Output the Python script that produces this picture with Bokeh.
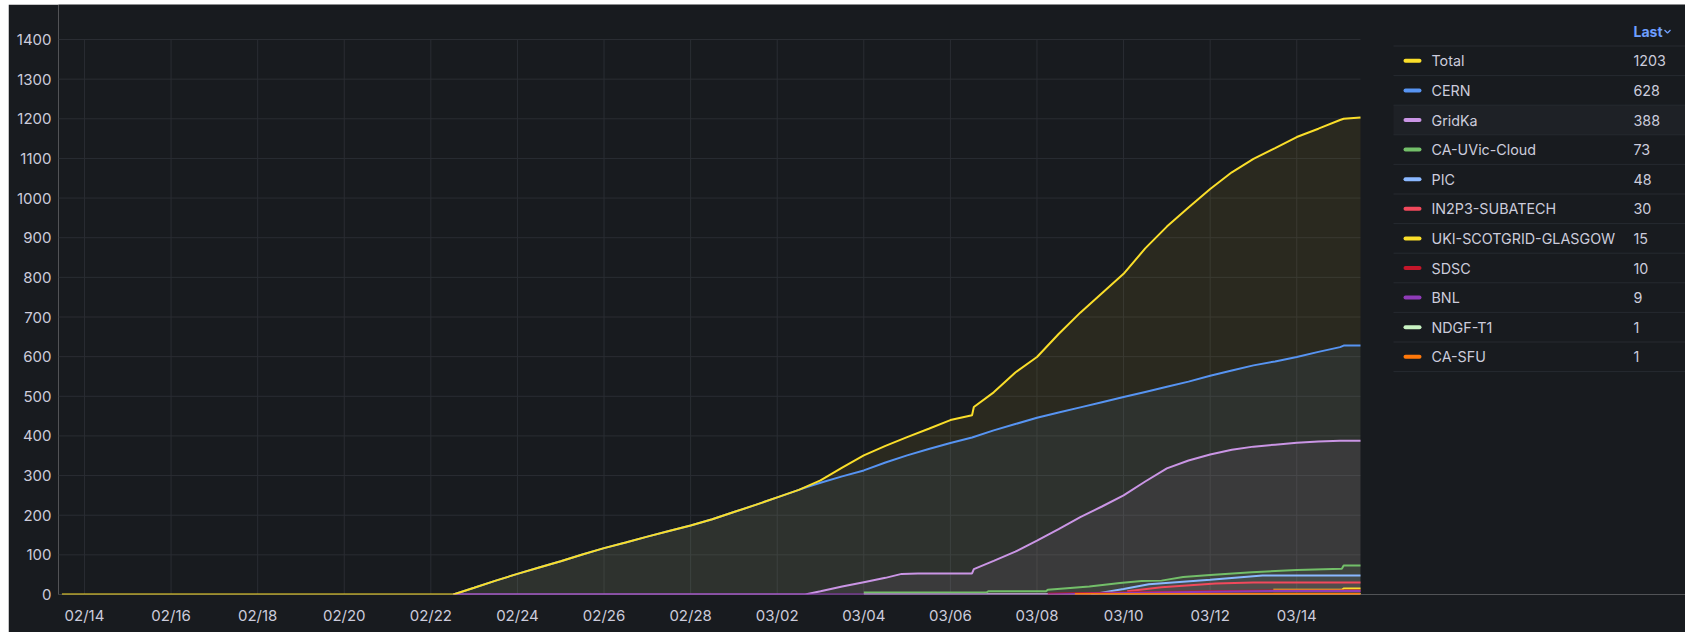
import pandas as pd
from bokeh.plotting import figure
from bokeh.models import Range1d, FixedTicker, DatetimeTickFormatter, ColumnDataSource
from bokeh.embed import file_html
from bokeh.resources import INLINE
from bokeh.core.properties import value

YEAR = "2022"

# ---------------- data ----------------
plot_start = "02-13 09:36"   # left edge of the plotting area
plot_end = "03-15 11:20"     # right edge of the plotting area (last sample)

tick_dates = ["02-14", "02-16", "02-18", "02-20", "02-22", "02-24", "02-26", "02-28",
              "03-02", "03-04", "03-06", "03-08", "03-10", "03-12", "03-14"]
y_ticks = [0, 100, 200, 300, 400, 500, 600, 700, 800, 900, 1000, 1100, 1200, 1300, 1400]

total_t = ["02-13 11:30", "02-22 12:30", "02-23 00:00", "02-23 12:00", "02-24 00:00", "02-24 12:00",
           "02-25 00:00", "02-25 12:00", "02-26 00:00", "02-26 12:00", "02-27 00:00", "02-27 12:00",
           "02-28 00:00", "02-28 12:00", "03-01 00:00", "03-01 12:00", "03-02 00:00", "03-02 12:00",
           "03-03 00:00", "03-03 12:00", "03-04 00:00", "03-04 12:00", "03-05 00:00", "03-05 12:00",
           "03-06 00:00", "03-06 12:00", "03-06 13:00", "03-07 00:00", "03-07 12:00", "03-08 00:00",
           "03-08 12:00", "03-09 00:00", "03-09 12:00", "03-10 00:00", "03-10 12:00", "03-11 00:00",
           "03-11 12:00", "03-12 00:00", "03-12 12:00", "03-13 00:00", "03-13 12:00", "03-14 00:00",
           "03-14 12:00", "03-15 00:00", "03-15 02:00", "03-15 11:20"]
total_v = [0, 0, 17, 35, 52, 68,
           84, 101, 117, 131, 146, 160,
           174, 190, 208, 226, 245, 264,
           288, 320, 351, 375, 397, 418,
           440, 452, 473, 510, 560, 599,
           657, 711, 760, 809, 873, 928,
           976, 1023, 1065, 1099, 1126, 1154,
           1175, 1197, 1200, 1203]

cern_t = ["02-22 12:30", "02-23 00:00", "02-23 12:00", "02-24 00:00", "02-24 12:00",
          "02-25 00:00", "02-25 12:00", "02-26 00:00", "02-26 12:00", "02-27 00:00", "02-27 12:00",
          "02-28 00:00", "02-28 12:00", "03-01 00:00", "03-01 12:00", "03-02 00:00", "03-02 12:00",
          "03-02 16:30", "03-03 00:00", "03-03 12:00", "03-04 00:00", "03-04 12:00", "03-05 00:00",
          "03-05 12:00", "03-06 00:00", "03-06 12:00", "03-07 00:00", "03-07 12:00", "03-08 00:00",
          "03-08 12:00", "03-09 00:00", "03-09 12:00", "03-10 00:00", "03-10 12:00", "03-11 00:00",
          "03-11 12:00", "03-12 00:00", "03-12 12:00", "03-13 00:00", "03-13 12:00", "03-14 00:00",
          "03-14 12:00", "03-15 00:00", "03-15 02:00", "03-15 11:20"]
cern_v = [0, 17, 35, 52, 68,
          84, 101, 117, 131, 146, 160,
          174, 190, 208, 226, 245, 264,
          271, 282, 298, 313, 333, 351,
          367, 382, 396, 414, 430, 446,
          459, 472, 485, 498, 511, 524,
          537, 552, 565, 578, 588, 599,
          612, 624, 628, 628]

gridka_t = ["02-22 12:30", "03-02 15:30", "03-03 00:00", "03-03 12:00", "03-04 00:00", "03-04 12:00",
            "03-04 21:00", "03-05 06:00", "03-06 12:00", "03-06 13:00", "03-07 00:00", "03-07 12:00",
            "03-08 00:00", "03-08 12:00", "03-09 00:00", "03-09 12:00", "03-10 00:00", "03-10 12:00",
            "03-11 00:00", "03-11 12:00", "03-12 00:00", "03-12 12:00", "03-13 00:00", "03-13 12:00",
            "03-14 00:00", "03-14 12:00", "03-15 00:00", "03-15 11:20"]
gridka_v = [0, 0, 8, 20, 31, 42,
            52, 53, 53, 64, 85, 108,
            136, 165, 195, 222, 250, 285,
            318, 338, 353, 365, 373, 378,
            383, 386, 388, 388]

uvic_t = ["03-04 00:00", "03-06 20:00", "03-06 21:00", "03-08 05:00", "03-08 06:00", "03-09 05:00",
          "03-09 22:00", "03-10 10:00", "03-10 21:00", "03-11 09:00", "03-12 00:00", "03-12 23:00",
          "03-14 00:00", "03-15 01:00", "03-15 02:00", "03-15 11:20"]
uvic_v = [5, 5, 8, 8, 12, 20,
          29, 34, 35, 44, 49, 56,
          62, 65, 73, 73]

pic_t = ["03-09 06:00", "03-10 00:00", "03-10 14:00", "03-12 00:00", "03-13 05:00", "03-15 11:20"]
pic_v = [0, 14, 26, 37, 48, 48]

in2p3_t = ["03-10 02:00", "03-10 21:00", "03-12 03:00", "03-13 00:00", "03-15 11:20"]
in2p3_v = [8, 18, 28, 30, 30]

uki_t = ["03-13 11:00", "03-15 01:00", "03-15 02:00", "03-15 11:20"]
uki_v = [12, 12, 15, 15]

sdsc_t = ["03-08 06:00", "03-10 00:00", "03-12 00:00", "03-13 12:00", "03-15 11:20"]
sdsc_v = [2, 5, 8, 10, 10]

bnl_t = ["02-22 12:30", "03-08 06:00", "03-10 00:00", "03-12 00:00", "03-13 12:00", "03-15 11:20"]
bnl_v = [0, 0, 4, 7, 9, 9]

ndgf_t = ["03-04 00:00", "03-15 11:20"]
ndgf_v = [1, 1]

sfu_t = ["03-08 21:00", "03-15 11:20"]
sfu_v = [1, 1]

names = ["Total", "CERN", "GridKa", "CA-UVic-Cloud", "PIC", "IN2P3-SUBATECH",
         "UKI-SCOTGRID-GLASGOW", "SDSC", "BNL", "NDGF-T1", "CA-SFU"]
colors = ["#fade2a", "#5794f2", "#ca95e5", "#73bf69", "#8ab8ff", "#f2495c",
          "#fade2a", "#c4162a", "#8f3bb8", "#c8f2c2", "#ff780a"]
times = [total_t, cern_t, gridka_t, uvic_t, pic_t, in2p3_t, uki_t, sdsc_t, bnl_t, ndgf_t, sfu_t]
values = [total_v, cern_v, gridka_v, uvic_v, pic_v, in2p3_v, uki_v, sdsc_v, bnl_v, ndgf_v, sfu_v]
draw_order = ["CERN", "GridKa", "NDGF-T1", "CA-UVic-Cloud", "PIC", "IN2P3-SUBATECH",
              "UKI-SCOTGRID-GLASGOW", "SDSC", "BNL", "CA-SFU", "Total"]

# ---------------- geometry / styling ----------------
BG = "#181b1f"
GRID = "#2a2d33"
TXT = "#ccccdc"
FONT = "Inter"

FIG_W, FIG_H = 1677, 628          # panel drawn at page (8, 4)
PAGE_X0, PAGE_Y0 = 8, 4
BORDER_L, BORDER_B = 50, 38
FRAME_W = FIG_W - BORDER_L         # plotting frame extends under the legend column
FRAME_H = FIG_H - BORDER_B
PLOT_W = 1302                      # width of the time-series area in px
PLOT_H = 555                       # height of 0..1400 in px
Y_MAX = 1400


def ts(lst):
    return pd.to_datetime([f"{YEAR}-{s}" for s in lst])


def ms(s):
    return pd.Timestamp(f"{YEAR}-{s}").value // 10**6


x0_ms = ms(plot_start)
x1_ms = ms(plot_end)
ms_per_px = (x1_ms - x0_ms) / PLOT_W
units_per_px = Y_MAX / PLOT_H

p = figure(width=FIG_W, height=FIG_H, x_axis_type="datetime", title=None,
           x_range=Range1d(x0_ms, x0_ms + FRAME_W * ms_per_px),
           y_range=Range1d(0, FRAME_H * units_per_px),
           output_backend="svg", toolbar_location=None,
           min_border_left=BORDER_L, min_border_right=0, min_border_top=0, min_border_bottom=BORDER_B,
           background_fill_color=BG, border_fill_color=BG, outline_line_color=None,
           margin=(PAGE_Y0, 0, 0, PAGE_X0))

# legend coordinate system: page pixels
frame_left_page = PAGE_X0 + BORDER_L
frame_top_page = PAGE_Y0
frame_bottom_page = PAGE_Y0 + FRAME_H
p.extra_x_ranges = {"lx": Range1d(frame_left_page, frame_left_page + FRAME_W)}
p.extra_y_ranges = {"ly": Range1d(frame_bottom_page, frame_top_page)}

p.xaxis.ticker = FixedTicker(ticks=[ms(d) for d in tick_dates])
fmt = "%m/%d"
p.xaxis.formatter = DatetimeTickFormatter(days=fmt, months=fmt, hours=fmt, years=fmt)
p.yaxis.ticker = FixedTicker(ticks=y_ticks)
p.axis.axis_line_color = None
p.axis.major_tick_line_color = None
p.axis.minor_tick_line_color = None
p.axis.major_tick_out = 0
p.axis.major_tick_in = 0
p.axis.major_label_text_color = TXT
p.axis.major_label_text_font = FONT
p.axis.major_label_text_font_size = "15px"
p.yaxis.major_label_standoff = 7
p.xaxis.major_label_standoff = 11
p.grid.visible = False

# grid limited to the time-series area
tick_x = ts(tick_dates)
p.segment(x0=tick_x, x1=tick_x, y0=0, y1=Y_MAX, line_color=GRID, line_width=1)
p.segment(x0=x0_ms, x1=x1_ms, y0=y_ticks, y1=y_ticks, line_color=GRID, line_width=1)

idx = {n: i for i, n in enumerate(names)}
sources = {}
for n in draw_order:
    i = idx[n]
    sources[n] = ColumnDataSource(dict(x=ts(times[i]), y=values[i]))
    p.varea(x="x", y1=0, y2="y", source=sources[n], fill_color=colors[i], fill_alpha=0.08)
for n in draw_order:
    i = idx[n]
    p.line(x="x", y="y", source=sources[n], line_color=colors[i], line_width=2)

# ---------------- legend table ----------------
L = dict(x_range_name="lx", y_range_name="ly")
order = sorted(range(len(names)), key=lambda i: -values[i][-1])
row_h = 29.6
row0 = 60.3
sep0 = 45.5
n_rows = len(order)
lx0, lx1 = 1393, 1685

p.quad(left=lx0, right=lx1, top=sep0 + 2 * row_h, bottom=sep0 + 3 * row_h,
       fill_color="#1e2126", line_color=None, **L)

sep_y = [sep0 + k * row_h for k in range(n_rows + 1)]
p.segment(x0=lx0, x1=lx1, y0=sep_y, y1=sep_y, line_color="#262a30", line_width=1, **L)

ys = [row0 + k * row_h for k in range(n_rows)]
p.rect(x=1412, y=ys, width=18, height=4, fill_color=[colors[i] for i in order],
       line_color=None, border_radius=2, **L)
p.text(x=1431, y=ys, text=[names[i] for i in order], text_color=TXT,
       text_font=value(FONT), text_font_size="14.3px", text_baseline="middle", text_align="left", **L)
p.text(x=1633, y=ys, text=[str(values[i][-1]) for i in order], text_color=TXT,
       text_font=value(FONT), text_font_size="14.3px", text_baseline="middle", text_align="left", **L)

p.text(x=1633, y=31, text=["Last"], text_color="#6e9fff", text_font=value(FONT),
       text_font_size="14px", text_font_style="bold", text_baseline="middle", text_align="left", **L)
p.line(x=[1664, 1667, 1670], y=[29.5, 32.5, 29.5], line_color="#6e9fff", line_width=1.3, **L)

open("out.html", "w").write(file_html(p, INLINE))
